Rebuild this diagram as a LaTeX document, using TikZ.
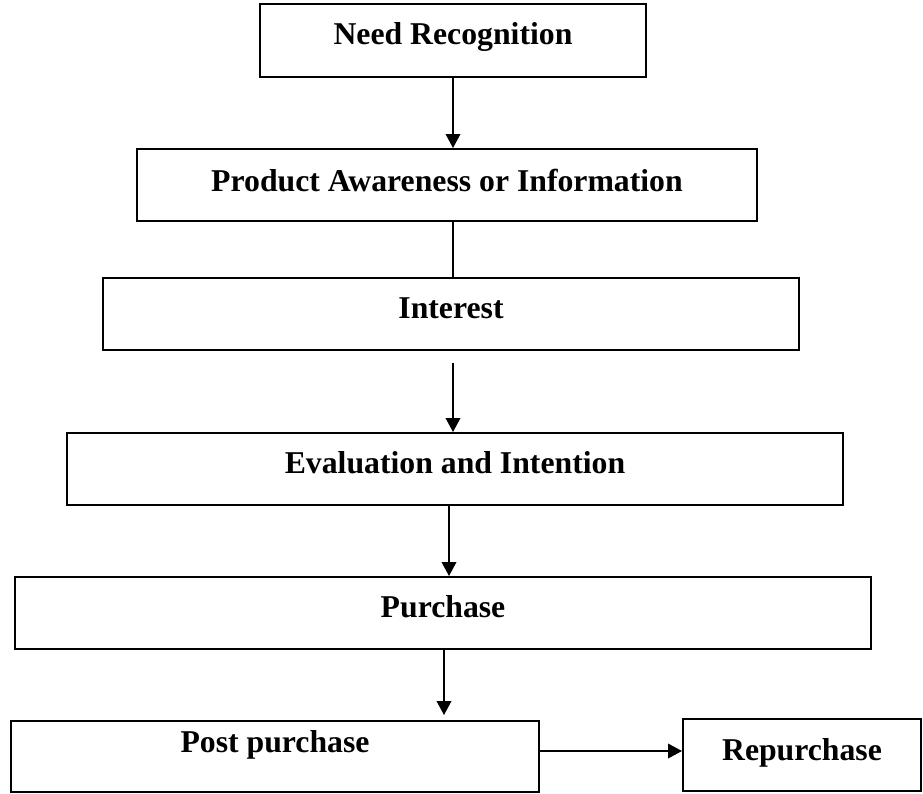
\documentclass[tikz,border=0pt]{standalone}
\usepackage{fontspec}
\setmainfont{Liberation Serif}
\usetikzlibrary{arrows.meta}

\tikzset{
	stage/.style={draw, line width=1.5pt, inner sep=0pt, minimum height=54pt,
		font=\bfseries\fontsize{23.8}{28}\selectfont, text height=13pt, text depth=7pt},
	flow/.style={line width=1.1pt, -{Triangle[width=11pt,length=10.5pt]}},
	plain/.style={line width=1.1pt}}

\begin{document}
\begin{tikzpicture}[x=0.75pt,y=0.75pt,yscale=-1,xscale=1]
	\useasboundingbox (0,0) rectangle (923,793);

	% Stages
	\node [stage, minimum width=289.5pt, minimum height=54.75pt] (need) at (453,40.5) {Need Recognition};
	\node [stage, minimum width=465pt, text height=15pt, text depth=6pt] (aware) at (447,185) {Product Awareness or Information};
	\node [stage, minimum width=522pt] (interest) at (451,314) {Interest};
	\node [stage, minimum width=582pt] (eval) at (455,469) {Evaluation and Intention};
	\node [stage, minimum width=642pt] (purchase) at (443,613) {Purchase};
	\node [stage, minimum width=396pt, minimum height=53.25pt, text height=8pt, text depth=14.75pt] (post) at (275,756.5) {Post purchase};
	\node [stage, minimum width=178.5pt, text height=14pt, text depth=6pt] (repurchase) at (802,755) {Repurchase};

	% Free ends
	\coordinate (gaptop) at (453,363);
	\coordinate (midline) at (449,0);
	\coordinate (posttip) at (444,715);
	\coordinate (sideline) at (0,751);

	% Connectors
	\draw [flow] (need.south) -- (need.south |- aware.north);
	\draw [plain] (need.south |- aware.south) -- (need.south |- interest.north);
	\draw [flow] (gaptop) -- (gaptop |- eval.north);
	\draw [flow] (eval.south -| midline) -- (purchase.north -| midline);
	\draw [flow] (purchase.south -| posttip) -- (posttip);
	\draw [flow] (post.east |- sideline) -- (repurchase.west |- sideline);

\end{tikzpicture}
\end{document}
